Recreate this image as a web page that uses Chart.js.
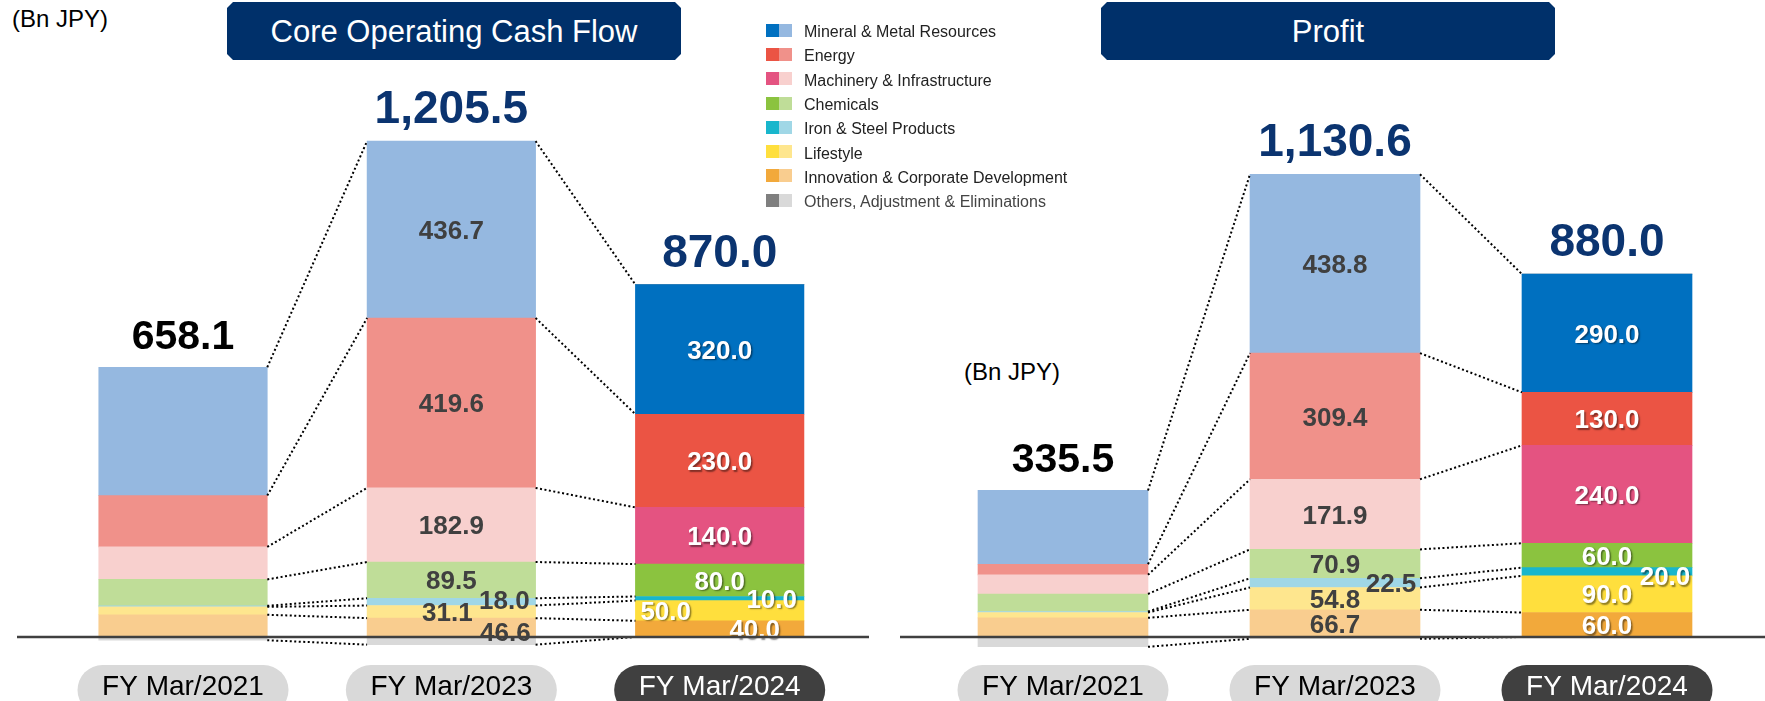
<!DOCTYPE html>
<html>
<head>
<meta charset="utf-8">
<script src="https://cdn.jsdelivr.net/npm/chart.js@4.4.1/dist/chart.umd.min.js"></script>
<style>
html, body { margin: 0; padding: 0; background: #fff; }
body { width: 1765px; height: 701px; position: relative; overflow: hidden; font-family: "Liberation Sans", Arial, sans-serif; }
canvas { position: absolute; top: 0; }
.box { position: absolute; top: 2px; width: 454px; height: 58px; background: #00306a; color: #fff; font-size: 31px;
       display: flex; align-items: center; justify-content: center; padding-top: 2px; box-sizing: border-box;
       clip-path: polygon(6px 0, calc(100% - 6px) 0, 100% 6px, 100% calc(100% - 6px), calc(100% - 6px) 100%, 6px 100%, 0 calc(100% - 6px), 0 6px); }
.unit { position: absolute; font-size: 24px; line-height: 24px; color: #000; }
#legend { position: absolute; left: 766px; top: 18px; z-index: 2; }
#legend div { height: 24.3px; display: flex; align-items: center; font-size: 16px; color: #222; white-space: nowrap; }
#legend i { display: inline-block; width: 13px; height: 13px; }
#legend span { margin-left: 12px; padding-top: 4px; }
</style>
</head>
<body>
<div class="unit" style="left:12px;top:7px">(Bn JPY)</div>
<div class="unit" style="left:964px;top:360px">(Bn JPY)</div>
<div class="box" style="left:227px">Core Operating Cash Flow</div>
<div class="box" style="left:1101px">Profit</div>
<div id="legend"></div>
<canvas id="cf" width="880" height="701" style="left:0"></canvas>
<canvas id="pr" width="885" height="701" style="left:880px"></canvas>
<script>
const years = ["FY Mar/2021", "FY Mar/2023", "FY Mar/2024"];
const segNames = ["Mineral & Metal Resources", "Energy", "Machinery & Infrastructure", "Chemicals",
                  "Iron & Steel Products", "Lifestyle", "Innovation & Corporate Development",
                  "Others, Adjustment & Eliminations"];

// Core operating cash flow, Bn JPY (FY Mar/2021 split)
const cfMineral    = [316.9, 436.7, 320.0];
const cfEnergy     = [126.8, 419.6, 230.0];
const cfMachinery  = [80.3, 182.9, 140.0];
const cfChemicals  = [65.1, 89.5, 80.0];
const cfIron       = [2.6, 18.0, 10.0];
const cfLifestyle  = [19.5, 31.1, 50.0];
const cfInnovation = [54.9, 46.6, 40.0];
const cfOthers     = [-8.0, -18.9, 0];
const cfTotals     = [658.1, 1205.5, 870.0];

// Profit, Bn JPY
const prMineral    = [181.0, 438.8, 290.0];
const prEnergy     = [26.0, 309.4, 130.0];
const prMachinery  = [47.0, 171.9, 240.0];
const prChemicals  = [43.0, 70.9, 60.0];
const prIron       = [2.5, 22.5, 20.0];
const prLifestyle  = [13.0, 54.8, 90.0];
const prInnovation = [47.0, 66.7, 60.0];
const prOthers     = [-24.0, -4.4, 0];
const prTotals     = [335.5, 1130.6, 880.0];

// [plan colour, past colour] per segment
const palette = [["#0070c0", "#95b8e0"], ["#eb5444", "#f0918a"], ["#e45381", "#f8d0ce"], ["#8bc33f", "#bfdd98"],
                 ["#18b6cc", "#a0d7e6"], ["#ffdf3d", "#fee68e"], ["#f2a93b", "#f9cd8f"], ["#7f7f7f", "#d9d9d9"]];

const FONT = '"Liberation Sans", Arial, sans-serif';

// legend
document.getElementById("legend").innerHTML = segNames.map((n, k) =>
  `<div><i style="background:${palette[k][0]}"></i><i style="background:${palette[k][1]}"></i>` +
  `<span style="${k === 7 ? "color:#444" : ""}">${n}</span></div>`).join("");

// stack bottom-up: innovation ... mineral, others (negative) last
const stackOrder = [6, 5, 4, 3, 2, 1, 0, 7];
const makeDatasets = series => stackOrder.map(k => ({
  label: segNames[k], seg: k, data: series[k],
  backgroundColor: series[k].map((_, i) => i === 2 ? palette[k][0] : palette[k][1])
}));

const overlay = {
  id: "overlay",
  afterDatasetsDraw(chart, args, o) {
    const { ctx } = chart, x = chart.scales.x, y = chart.scales.y;
    const zero = y.getPixelForValue(0);
    const metas = chart.data.datasets.map((d, i) => ({ seg: d.seg, data: d.data, els: chart.getDatasetMeta(i).data }));
    // a zero "others" value sits on the axis, not on top of the positive stack
    const edge = (m, i) => m.seg === 7 && !m.data[i] ? zero : m.els[i].y;
    ctx.save();

    // dotted connectors between segment boundaries
    ctx.setLineDash([2, 2.5]); ctx.lineWidth = 2; ctx.strokeStyle = "#000";
    for (let i = 0; i < 2; i++) {
      for (const m of metas) {
        const a = m.els[i], b = m.els[i + 1];
        ctx.beginPath(); ctx.moveTo(a.x + a.width / 2, edge(m, i)); ctx.lineTo(b.x - b.width / 2, edge(m, i + 1)); ctx.stroke();
      }
    }
    ctx.setLineDash([]);

    // segment values
    ctx.textAlign = "center"; ctx.font = `bold 26px ${FONT}`;
    for (const m of metas) {
      if (m.seg === 7) continue;
      for (let i = 1; i < 3; i++) {
        const el = m.els[i], [dx, dy] = (o.nudge[m.seg] || [])[i] || [0, 0];
        const cy = (el.y + el.base) / 2 + dy + 9.3;
        if (i === 2) {
          ctx.fillStyle = "#fff";
          ctx.shadowColor = "rgba(0,0,0,0.45)"; ctx.shadowOffsetX = 1.5; ctx.shadowOffsetY = 1.5; ctx.shadowBlur = 1.5;
        } else {
          ctx.fillStyle = "#404040"; ctx.shadowColor = "transparent";
        }
        ctx.fillText(m.data[i].toFixed(1), el.x + dx, cy);
      }
    }
    ctx.shadowColor = "transparent";

    // axis line
    ctx.fillStyle = "#404040";
    ctx.fillRect(o.line[0], zero - 1.25, o.line[1] - o.line[0], 2.5);

    // totals above bars
    const top = metas.find(m => m.seg === 0).els;
    o.totals.forEach((t, i) => {
      ctx.fillStyle = i === 0 ? "#000" : "#0b3470";
      ctx.font = `bold ${i === 0 ? 41 : 46}px ${FONT}`;
      ctx.fillText(t.toLocaleString("en-US", { minimumFractionDigits: 1 }), top[i].x, top[i].y - 18);
    });

    // year pills
    ctx.font = `28px ${FONT}`;
    years.forEach((t, i) => {
      const cx = x.getPixelForValue(i);
      ctx.fillStyle = i === 2 ? "#404040" : "#d9d9d9";
      ctx.beginPath(); ctx.roundRect(cx - 105.5, 665, 211, 50, 25); ctx.fill();
      ctx.fillStyle = i === 2 ? "#fff" : "#000";
      ctx.fillText(t, cx, 695);
    });
    ctx.restore();
  }
};

function build(id, series, totals, o) {
  return new Chart(document.getElementById(id), {
    type: "bar",
    data: { labels: years, datasets: makeDatasets(series) },
    options: {
      responsive: false, animation: false, events: [],
      layout: { padding: o.pad },
      datasets: { bar: { barThickness: o.bar, borderWidth: 0 } },
      plugins: { legend: { display: false }, tooltip: { enabled: false },
                 overlay: { totals, nudge: o.nudge, line: o.line } },
      scales: {
        x: { display: false, stacked: true },
        y: { display: false, stacked: true, min: -100, max: o.max }
      }
    },
    plugins: [overlay]
  });
}

build("cf",
  [cfMineral, cfEnergy, cfMachinery, cfChemicals, cfIron, cfLifestyle, cfInnovation, cfOthers], cfTotals,
  { pad: { left: 48.85, right: 26.15, top: 29.5, bottom: 23.5 }, max: 1500, bar: 168.5, line: [17, 869],
    nudge: { 4: [null, [53, -2], [52, 0]], 5: [null, [-4, 0], [-54, 0]], 6: [null, [54, 4], [35, 0]] } });

build("pr",
  [prMineral, prEnergy, prMachinery, prChemicals, prIron, prLifestyle, prInnovation, prOthers], prTotals,
  { pad: { left: 47, right: 22, top: 45.85, bottom: 23.23 }, max: 1450, bar: 170, line: [20, 885],
    nudge: { 4: [null, [56, 0], [58, 4]] } });
</script>
</body>
</html>
